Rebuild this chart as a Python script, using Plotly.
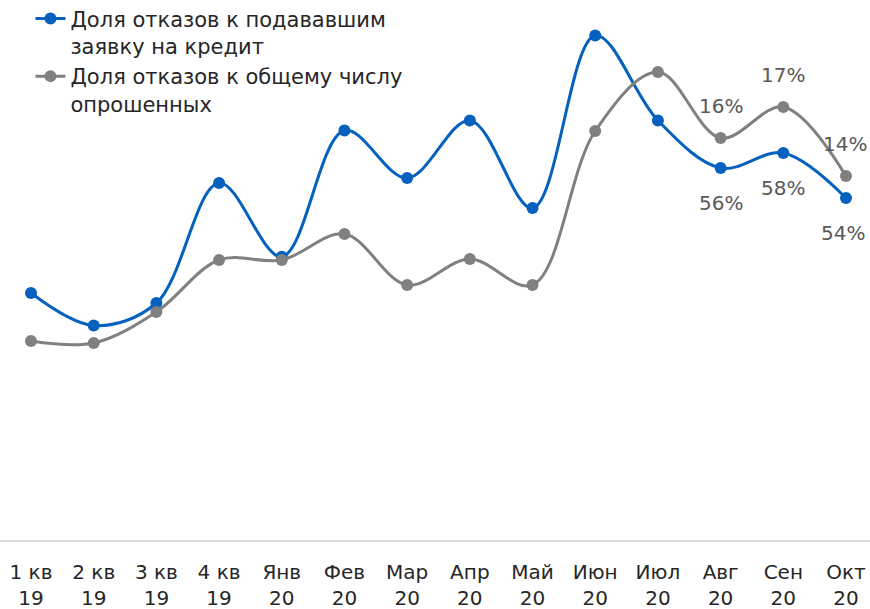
import plotly.graph_objects as go

categories = ["1 кв<br>19", "2 кв<br>19", "3 кв<br>19", "4 кв<br>19", "Янв<br>20", "Фев<br>20",
              "Мар<br>20", "Апр<br>20", "Май<br>20", "Июн<br>20", "Июл<br>20", "Авг<br>20",
              "Сен<br>20", "Окт<br>20"]
applicants = [46.4, 43.8, 45.6, 55.2, 49.3, 59.4, 55.6, 60.2, 53.2, 67.0, 60.2, 56.4, 57.6, 54.0]
surveyed = [7.64, 7.56, 8.8, 10.88, 10.88, 11.92, 9.88, 10.92, 9.88, 16.04, 18.4, 15.76, 17.0, 14.24]
name_applicants = "Доля отказов к подававшим<br>заявку на кредит"
name_surveyed = "Доля отказов к общему числу<br>опрошенных"
labeled = [11, 12, 13]

BLUE = "#0560BE"
GRAY = "#808080"
FONT = "'DejaVu Sans', sans-serif"

fig = go.Figure()
fig.add_trace(go.Scatter(x=categories, y=applicants, name=name_applicants, mode="lines+markers",
                         line=dict(color=BLUE, width=3, shape="spline", smoothing=1.0),
                         marker=dict(size=12, color=BLUE), yaxis="y"))
fig.add_trace(go.Scatter(x=categories, y=surveyed, name=name_surveyed, mode="lines+markers",
                         line=dict(color=GRAY, width=3, shape="spline", smoothing=1.0),
                         marker=dict(size=12, color=GRAY), yaxis="y2"))

anns = []
for i in labeled:
    anns.append(dict(x=categories[i], y=applicants[i], xref="x", yref="y",
                     text=f"{round(applicants[i])}%", showarrow=False, yshift=-35,
                     xshift=-3 if i == 13 else 0,
                     font=dict(size=20, color="#595959", family=FONT)))
    anns.append(dict(x=categories[i], y=surveyed[i], xref="x", yref="y2",
                     text=f"{round(surveyed[i])}%", showarrow=False, yshift=32,
                     xshift=-1 if i == 13 else 0,
                     font=dict(size=20, color="#595959", family=FONT)))

fig.update_layout(
    width=870, height=609,
    margin=dict(l=0, r=0, t=0, b=69, autoexpand=False),
    paper_bgcolor="white", plot_bgcolor="white",
    font=dict(family=FONT, size=20, color="#262626"),
    xaxis=dict(type="category", range=[-0.4945, 13.383], showgrid=False, showline=True,
               linecolor="#D9D9D9", linewidth=2, ticks="", tickfont=dict(size=20, color="#262626"),
               ticklabelstandoff=13),
    yaxis=dict(range=[26.64, 69.84], visible=False),
    yaxis2=dict(range=[-0.32, 21.28], visible=False, overlaying="y", side="right"),
    legend=dict(x=0.035, y=1.003, xanchor="left", yanchor="top", bgcolor="rgba(0,0,0,0)",
                font=dict(size=21, color="#262626"), tracegroupgap=0, valign="top"),
    showlegend=True,
    annotations=anns,
)
fig.write_html("out.html", config={"displayModeBar": False},
               post_script="document.body.style.margin='0';document.body.style.overflow='hidden';")
